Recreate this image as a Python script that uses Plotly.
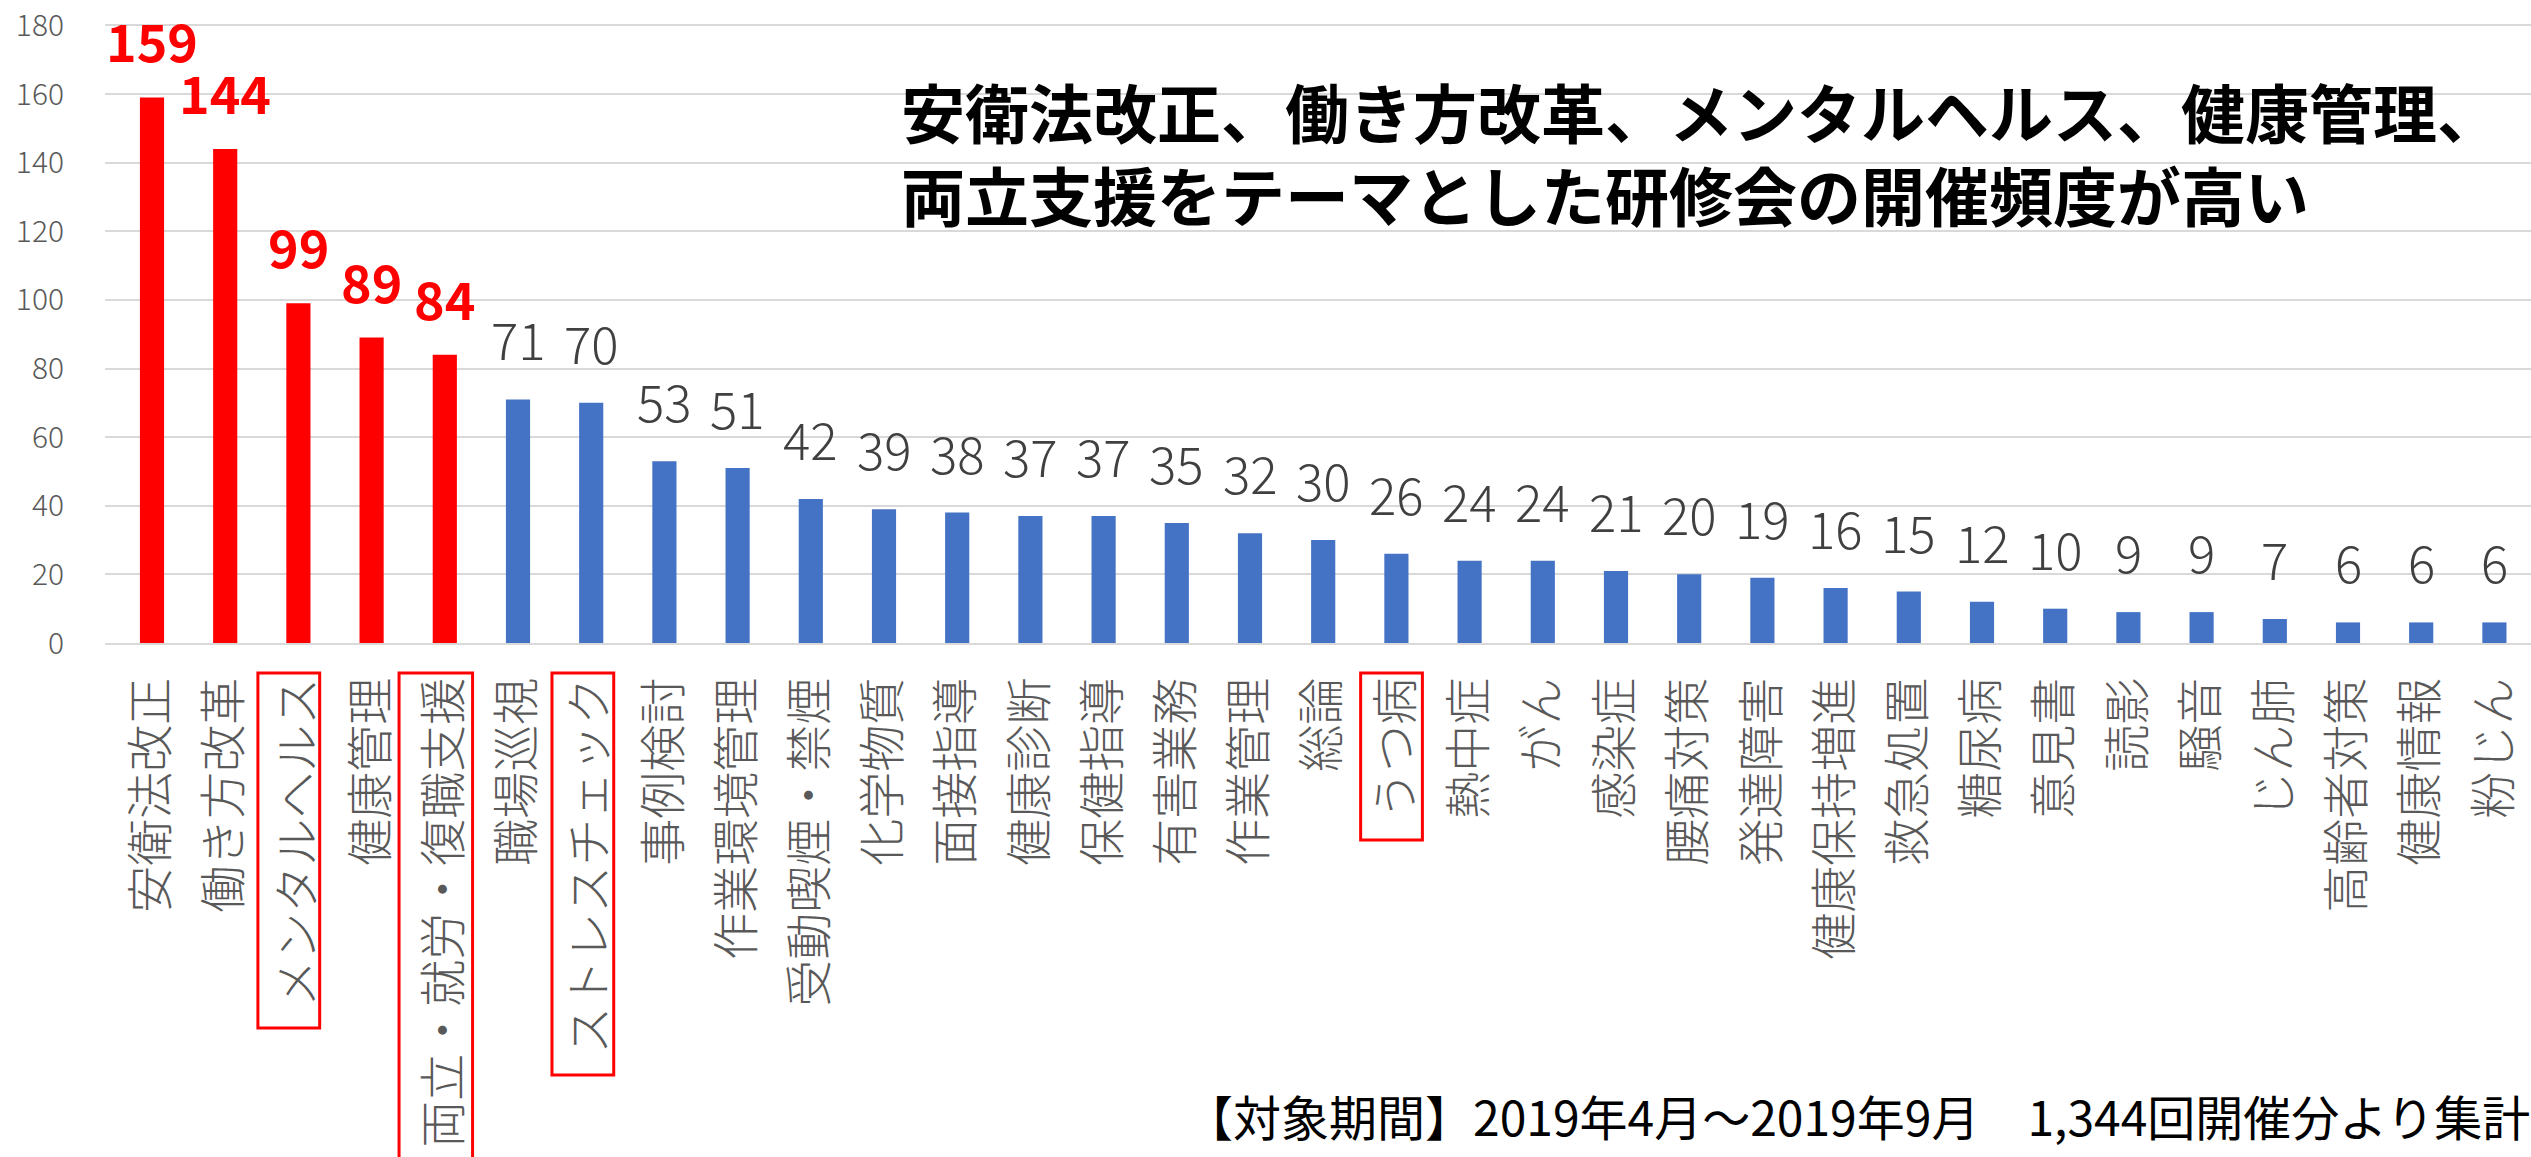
import plotly.graph_objects as go

# ---- data ----
categories = [
    "安衛法改正", "働き方改革", "メンタルヘルス", "健康管理", "両立・就労・復職支援",
    "職場巡視", "ストレスチェック", "事例検討", "作業環境管理", "受動喫煙・禁煙",
    "化学物質", "面接指導", "健康診断", "保健指導", "有害業務", "作業管理", "総論",
    "うつ病", "熱中症", "がん", "感染症", "腰痛対策", "発達障害", "健康保持増進",
    "救急処置", "糖尿病", "意見書", "読影", "騒音", "じん肺", "高齢者対策",
    "健康情報", "粉じん",
]
values = [159, 144, 99, 89, 84, 71, 70, 53, 51, 42, 39, 38, 37, 37, 35, 32, 30,
          26, 24, 24, 21, 20, 19, 16, 15, 12, 10, 9, 9, 7, 6, 6, 6]
highlight_count = 5
boxed_categories = ["メンタルヘルス", "両立・就労・復職支援", "ストレスチェック", "うつ病"]
y_ticks = [0, 20, 40, 60, 80, 100, 120, 140, 160, 180]

title_text = ("安衛法改正、働き方改革、メンタルヘルス、健康管理、<br>"
              "両立支援をテーマとした研修会の開催頻度が高い")
note_text = "【対象期間】2019年4月～2019年9月　1,344回開催分より集計"

# ---- style ----
W, H = 2531, 1157
ML, MR, MT, MB = 105, 0, 24, 514
PLOT_H = H - MT - MB
FONT = "Noto Sans CJK JP"
RED = "#FF0000"
BLUE = "#4472C4"
N = len(categories)

colors = [RED if i < highlight_count else BLUE for i in range(N)]

fig = go.Figure(go.Bar(
    x=categories, y=values, marker_color=colors, marker_line_width=0,
    width=0.33, hoverinfo="skip",
))

annotations = []
for i, (c, v) in enumerate(zip(categories, values)):
    if i < highlight_count:
        annotations.append(dict(x=c, y=v, xref="x", yref="y", text=str(v),
                                showarrow=False, yanchor="bottom", yshift=19, borderpad=0,
                                font=dict(family=FONT, size=52, color=RED, weight="bold")))
    else:
        annotations.append(dict(x=c, y=v, xref="x", yref="y", text=str(v),
                                showarrow=False, yanchor="bottom", yshift=23, borderpad=0,
                                font=dict(family=FONT, size=51, color="#404040", weight=300)))

annotations.append(dict(
    x=(899 - ML) / (W - ML - MR), y=(H - MB - 152) / PLOT_H, xref="paper", yref="paper",
    xanchor="left", yanchor="middle", align="left", showarrow=False,
    text=title_text, font=dict(family=FONT, size=64, color="#000000", weight="bold"),
))
annotations.append(dict(
    x=1.0, y=(H - MB - 1115) / PLOT_H, xref="paper", yref="paper",
    xanchor="right", yanchor="middle", showarrow=False, borderpad=0,
    text=note_text, font=dict(family=FONT, size=48, color="#000000"),
))

shapes = []
char_px = 47
for c in boxed_categories:
    i = categories.index(c)
    half = 0.5 if len(c) > 8 else 0.42
    top_px = H - MB + 30
    bot_px = top_px + len(c) * char_px + 26
    shapes.append(dict(
        type="rect", xref="paper", yref="paper",
        x0=(i + 0.5 - half) / N, x1=(i + 0.5 + half) / N,
        y0=(H - MB - top_px) / PLOT_H, y1=(H - MB - bot_px) / PLOT_H,
        line=dict(color=RED, width=3), fillcolor="rgba(0,0,0,0)", layer="above",
    ))

fig.update_layout(
    width=W, height=H,
    margin=dict(l=ML, r=MR, t=MT, b=MB, pad=0, autoexpand=False),
    plot_bgcolor="white", paper_bgcolor="white",
    showlegend=False, bargap=0.67,
    annotations=annotations, shapes=shapes,
    font=dict(family=FONT),
)
fig.update_xaxes(
    type="category", tickangle=-90, ticks="", automargin=False,
    tickfont=dict(family=FONT, size=47, color="#595959", weight=300),
    showline=True, linecolor="#D9D9D9", linewidth=2, showgrid=False,
    ticklabelstandoff=14,
)
fig.update_yaxes(
    range=[0, 180.4], tickvals=y_ticks, ticktext=[str(t) for t in y_ticks],
    showgrid=True, gridcolor="#D9D9D9", gridwidth=2, zeroline=False,
    showline=False, ticks="", automargin=False,
    tickfont=dict(family=FONT, size=30, color="#595959", weight=300),
    ticklabelstandoff=40,
)

fig.write_html(
    "out.html",
    config={"displayModeBar": False},
    post_script="document.body.style.margin='0px';document.body.style.overflow='hidden';",
)
